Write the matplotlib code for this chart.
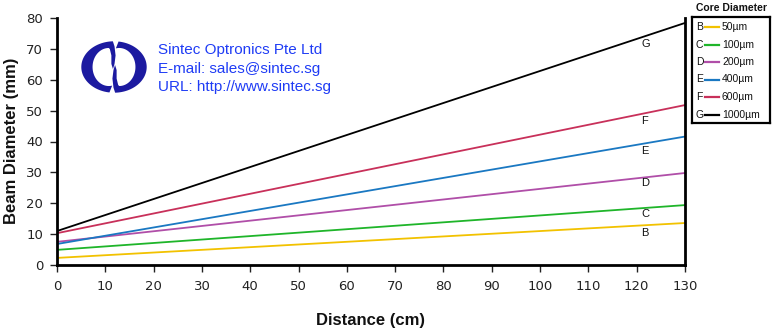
import matplotlib
matplotlib.use('Agg')
import matplotlib.pyplot as plt
import numpy as np
from matplotlib.patches import Polygon

# beam diameter vs distance for each fibre core size
distance = [0, 130]
letters = ['B', 'C', 'D', 'E', 'F', 'G']
cores = ['50µm', '100µm', '200µm', '400µm', '600µm', '1000µm']
start_mm = [2.3, 4.9, 7.5, 6.8, 10.3, 11.0]
end_mm = [13.6, 19.4, 29.8, 41.6, 51.8, 78.4]
label_y = [10.5, 16.5, 26.5, 37.0, 46.5, 71.5]
colors = ['#f2c200', '#1fb52a', '#b04ea8', '#1a78c2', '#c8305a', '#000000']

plt.rcParams['font.family'] = ['Liberation Sans', 'DejaVu Sans']
narrow = ['Liberation Sans Narrow', 'Liberation Sans', 'DejaVu Sans']

fig = plt.figure(figsize=(7.73, 3.31), dpi=100)
ax = fig.add_axes([57 / 773, 1 - 265 / 331, 628 / 773, 247 / 331])

for s, e, c in zip(start_mm, end_mm, colors):
    ax.plot(distance, [s, e], color=c, linewidth=1.3, solid_capstyle='butt')
for l, y in zip(letters, label_y):
    ax.text(121, y, l, fontsize=8, family=narrow, ha='left', va='center', color='#111')

ax.set_xlim(0, 130)
ax.set_ylim(0, 80)
ax.set_xticks(range(0, 131, 10))
ax.set_yticks(range(0, 81, 10))
ax.spines['top'].set_visible(False)
for side in ('left', 'bottom', 'right'):
    ax.spines[side].set_linewidth(2)
ax.tick_params(direction='out', length=5, width=1, colors='#222')
ax.tick_params(axis='x', pad=6)
ax.tick_params(axis='y', pad=5)
for t in ax.get_xticklabels() + ax.get_yticklabels():
    t.set_family(['DejaVu Sans'])
    t.set_fontsize(9.5)

fig.text(12 / 773, 1 - 141 / 331, 'Beam Diameter (mm)', rotation=90, ha='center', va='center',
         fontsize=12, fontweight='bold', family=narrow, color='#111')
fig.text(370 / 773, 1 - 321 / 331, 'Distance (cm)', ha='center', va='center',
         fontsize=12, fontweight='bold', family=narrow, color='#111')

# company logo: two hooked crescents inside an ellipse
lax = fig.add_axes([80 / 773, 1 - 94 / 331, 68 / 773, 54 / 331])
lax.set_xlim(-1.3, 1.3)
lax.set_ylim(-1.05, 1.05)
lax.axis('off')
navy = '#1c1aa0'
t = np.radians(np.linspace(262, 92, 60))
outer = np.column_stack([1.25 * np.cos(t), 1.0 * np.sin(t)])
tail = np.array([[0.02, 0.8], [0.06, 0.45], [0.02, 0.12], [-0.04, -0.08],
                 [-0.1, 0.12], [-0.1, 0.45], [-0.16, 0.7]])
ti = np.radians(np.linspace(90, 282, 60))
inner = np.column_stack([-0.2 + 0.62 * np.cos(ti), 0.74 * np.sin(ti)])
left_piece = np.vstack([outer, tail, inner])
lax.add_patch(Polygon(left_piece, closed=True, color=navy, lw=0))
lax.add_patch(Polygon(-left_piece, closed=True, color=navy, lw=0))

fig.text(158 / 773, 1 - 50 / 331, 'Sintec Optronics Pte Ltd', fontsize=11, color='#1f3cf5', va='center')
fig.text(158 / 773, 1 - 69 / 331, 'E-mail: sales@sintec.sg', fontsize=11, color='#1f3cf5', va='center')
fig.text(158 / 773, 1 - 87 / 331, 'URL: http://www.sintec.sg', fontsize=11, color='#1f3cf5', va='center')

# legend box with letter keys
fig.text(731 / 773, 1 - 8 / 331, 'Core Diameter', ha='center', va='center',
         fontsize=7.5, fontweight='bold', family=narrow, color='#111')
gax = fig.add_axes([692 / 773, 1 - 123 / 331, 78 / 773, 106 / 331])
gax.set_xlim(0, 78)
gax.set_ylim(106, 0)
gax.set_xticks([])
gax.set_yticks([])
for sp in gax.spines.values():
    sp.set_linewidth(1.6)
for i, (l, c, name) in enumerate(zip(letters, colors, cores)):
    y = 10 + i * 17.5
    gax.text(4, y, l, fontsize=7.5, family=narrow, va='center', color='#111')
    gax.plot([13, 27], [y, y], color=c, linewidth=1.6)
    gax.text(30, y, name, fontsize=7.5, family=narrow, va='center', color='#111')

fig.savefig('out.png', dpi=100)
